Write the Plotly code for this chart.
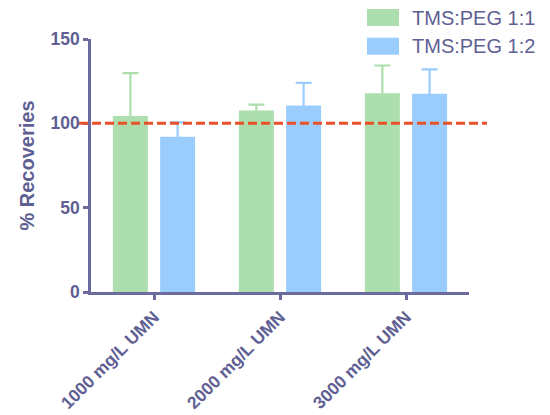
import plotly.graph_objects as go

# Recovery data (% of spiked amount) for two TMS:PEG ratios
categories = ["1000 mg/L UMN", "2000 mg/L UMN", "3000 mg/L UMN"]
series_names = ["TMS:PEG 1:1", "TMS:PEG 1:2"]
recovery_11 = [104.4, 107.6, 117.9]
recovery_12 = [92.1, 110.5, 117.5]
sd_11 = [25.4, 3.5, 16.4]
sd_12 = [8.5, 13.5, 14.5]
reference_level = 100
y_ticks = [0, 50, 100, 150]

GREEN = "#ADDEAD"
BLUE = "#9ACCFD"
RED = "#E8522B"
AXIS = "#6B6BA0"
TEXT = "#5F5F93"
FONT = "Arial, Liberation Sans, sans-serif"

W, H = 550, 415
ML, MR, MT, MB = 91, 81, 39, 123


def px_x(px):
    return (px - ML) / (W - ML - MR)


def px_y(py):
    return (H - MB - py) / (H - MT - MB)


fig = go.Figure()
for name, vals, errs, col in [
    (series_names[0], recovery_11, sd_11, GREEN),
    (series_names[1], recovery_12, sd_12, BLUE),
]:
    # error bars share the bar colour, so the lower half is hidden inside the bar
    fig.add_trace(go.Bar(
        x=categories, y=vals, name=name,
        marker=dict(color=col, line=dict(width=0)),
        error_y=dict(type="data", array=errs, symmetric=True,
                     color=col, thickness=2.2, width=8),
        showlegend=False,
    ))

# 100 % reference line
fig.add_shape(type="line", xref="paper", yref="y",
              x0=px_x(79), x1=px_x(487), y0=reference_level, y1=reference_level,
              line=dict(color=RED, width=3, dash="9px,4px"))

# Legend drawn as swatches + labels
for i, (name, col) in enumerate(zip(series_names, [GREEN, BLUE])):
    top = 9 + i * 28.7
    fig.add_shape(type="rect", xref="paper", yref="paper",
                  x0=px_x(367), x1=px_x(399), y0=px_y(top + 17), y1=px_y(top),
                  fillcolor=col, line=dict(width=0))
    fig.add_annotation(xref="paper", yref="paper", x=px_x(410), y=px_y(top + 8.5),
                       text=name, showarrow=False, xanchor="left", yanchor="middle",
                       font=dict(family=FONT, size=20, color=TEXT))

fig.update_layout(
    width=W, height=H,
    margin=dict(l=ML, r=MR, t=MT, b=MB, autoexpand=False),
    paper_bgcolor="white", plot_bgcolor="white",
    barmode="group", bargap=0.25, bargroupgap=0.26,
    font=dict(family=FONT, color=TEXT),
)
fig.update_xaxes(
    range=[-0.5, 2.5], showline=True, linecolor=AXIS, linewidth=2.5,
    ticks="outside", ticklen=5, tickwidth=2.5, tickcolor=AXIS,
    tickangle=-45, showgrid=False, zeroline=False,
    tickfont=dict(family=FONT, size=17.5, color=TEXT, weight="bold"),
)
fig.update_yaxes(
    range=[0, 150], tickvals=y_ticks, showline=True, linecolor=AXIS, linewidth=2.5,
    ticks="outside", ticklen=5, tickwidth=2.5, tickcolor=AXIS,
    showgrid=False, zeroline=False,
    tickfont=dict(family=FONT, size=17.5, color=TEXT, weight="bold"),
    title=dict(text="% Recoveries", standoff=11,
               font=dict(family=FONT, size=20, color=TEXT, weight="bold")),
)

fig.write_html("out.html")
